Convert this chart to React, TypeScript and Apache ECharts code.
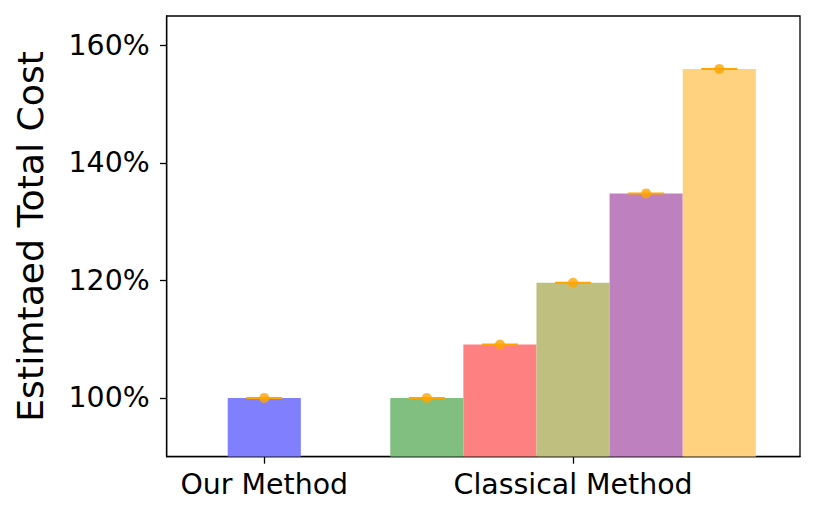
import React, { useEffect, useRef } from "react";
import * as echarts from "echarts";

// ---- data ----
const categories = ["Our Method", "Classical Method"];
const ourMethodCost = [100];
const classicalMethodCost = [100, 109.1, 119.6, 134.8, 156.0];
const yTickValues = [100, 120, 140, 160];

// ---- styles / layout constants ----
const ourColor = "#8080FF";
const classicalColors = ["#80BF80", "#FF8080", "#BFBF80", "#BF80BF", "#FFD280"];
const errColor = "#FFA500";
const BAR_W = 0.2368; // bar width in x-axis units
const X_MIN = -0.316;
const X_MAX = 1.735;
const Y_MIN = 90;
const Y_MAX = 165;
const FONT = "DejaVu Sans";

export default function App() {
  const ref = useRef<HTMLDivElement>(null);
  useEffect(() => {
    if (!ref.current) return;
    const chart = echarts.init(ref.current, undefined, { renderer: "svg" });

    const bars: any[] = [];
    ourMethodCost.forEach((v, i) => bars.push([0 + i, v, ourColor]));
    classicalMethodCost.forEach((v, i) =>
      bars.push([1 + (i - 2) * BAR_W, v, classicalColors[i]])
    );
    const points = bars.map((b) => [b[0], b[1]]);

    chart.setOption({
      animation: false,
      backgroundColor: "#ffffff",
      grid: {
        left: 166.7,
        top: 16,
        right: 17,
        bottom: 61.3,
        show: true,
        borderColor: "#000",
        borderWidth: 1.3,
        backgroundColor: "transparent",
        containLabel: false,
        outerBoundsMode: "none",
      },
      xAxis: {
        type: "value",
        min: X_MIN,
        max: X_MAX,
        splitLine: { show: false },
        axisLine: { show: true, onZero: false, lineStyle: { color: "#000", width: 1.3 } },
        axisTick: {
          show: true,
          customValues: [0, 1],
          length: 7,
          lineStyle: { color: "#000", width: 1.3 },
        },
        axisLabel: {
          customValues: [0, 1],
          formatter: (v: number) => categories[Math.round(v)] ?? "",
          color: "#000",
          fontFamily: FONT,
          fontSize: 28.4,
          margin: 14,
        },
      },
      yAxis: {
        type: "value",
        min: Y_MIN,
        max: Y_MAX,
        name: "Estimtaed Total Cost",
        nameLocation: "middle",
        nameRotate: 90,
        nameGap: 118,
        nameTextStyle: { color: "#000", fontFamily: FONT, fontSize: 36.2 },
        splitLine: { show: false },
        axisLine: { show: true, onZero: false, lineStyle: { color: "#000", width: 1.3 } },
        axisTick: {
          show: true,
          customValues: yTickValues,
          length: 6.7,
          lineStyle: { color: "#000", width: 1.3 },
        },
        axisLabel: {
          customValues: yTickValues,
          formatter: (v: number) => `${v}%`,
          color: "#000",
          fontFamily: FONT,
          fontSize: 28.4,
          margin: 17,
        },
      },
      series: [
        {
          type: "custom",
          clip: true,
          encode: { x: 0, y: 1 },
          data: bars,
          renderItem: (params: any, api: any) => {
            const x = api.value(0);
            const y = api.value(1);
            const color = bars[params.dataIndex][2];
            const tl = api.coord([x - BAR_W / 2, y]);
            const br = api.coord([x + BAR_W / 2, Y_MIN]);
            return {
              type: "rect",
              shape: { x: tl[0], y: tl[1], width: br[0] - tl[0], height: br[1] - tl[1] },
              style: { fill: color },
            };
          },
          z: 2,
        },
        {
          type: "custom",
          clip: true,
          encode: { x: 0, y: 1 },
          data: points,
          renderItem: (params: any, api: any) => {
            const p = api.coord([api.value(0), api.value(1)]);
            return {
              type: "line",
              shape: { x1: p[0] - 18, y1: p[1], x2: p[0] + 18, y2: p[1] },
              style: { stroke: errColor, lineWidth: 2 },
            };
          },
          z: 3,
        },
        {
          type: "scatter",
          data: points,
          symbol: "circle",
          symbolSize: 10,
          itemStyle: { color: errColor },
          z: 4,
        },
      ],
    });
    return () => chart.dispose();
  }, []);
  return (
    <div
      ref={ref}
      style={{ position: "absolute", left: 0, top: 0, width: 817, height: 518 }}
    />
  );
}
